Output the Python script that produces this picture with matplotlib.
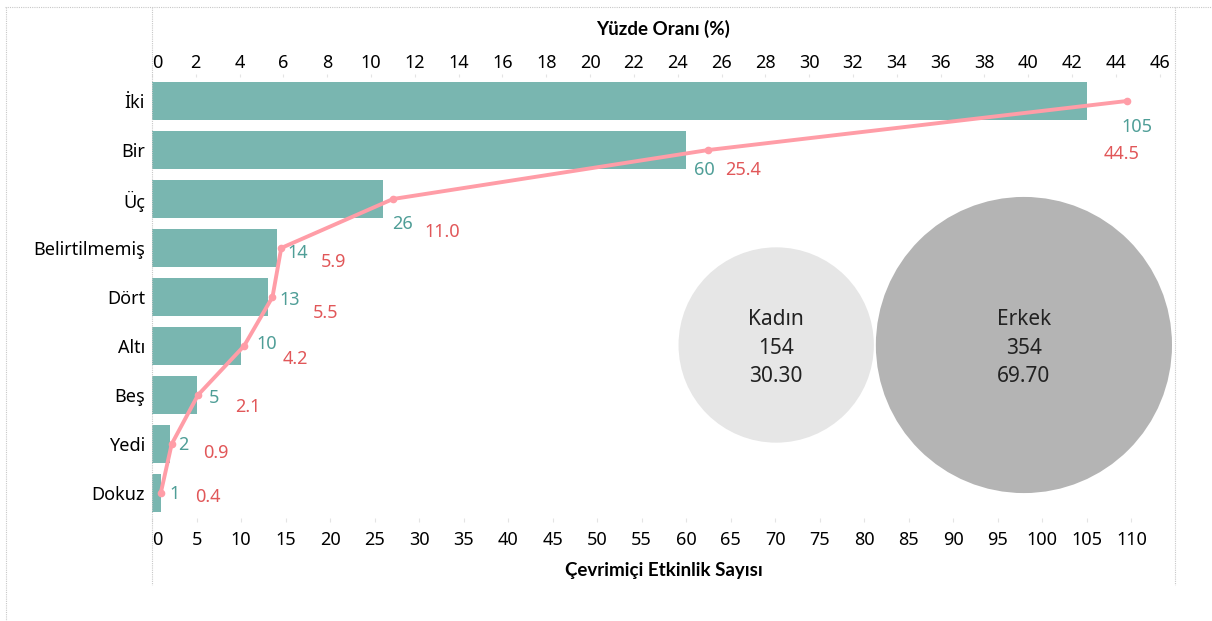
import matplotlib.pyplot as plt
from matplotlib.lines import Line2D
from matplotlib.patches import Circle
import numpy as np

plt.rcParams['font.family'] = ['Noto Sans', 'DejaVu Sans']

# data
categories = ['İki', 'Bir', 'Üç', 'Belirtilmemiş', 'Dört', 'Altı', 'Beş', 'Yedi', 'Dokuz']
counts = [105, 60, 26, 14, 13, 10, 5, 2, 1]
percents = [44.5, 25.4, 11.0, 5.9, 5.5, 4.2, 2.1, 0.9, 0.4]
count_ticks = list(range(0, 111, 5))
pct_ticks = list(range(0, 47, 2))

genders = ['Kadın', 'Erkek']
gender_counts = [154, 354]
gender_pcts = [30.30, 69.70]

# label nudges (pixels: right, down)
count_nudge = [(35, 26), (8, 20), (9, 25), (11, 5), (12, 3), (15, -2), (12, 3), (8, 1), (9, 1)]
pct_nudge = [(-23, 53), (17, 20), (31, 33), (40, 14), (40, 16), (39, 13), (37, 12), (31, 9), (34, 4)]

teal = '#79b6b0'
teal_txt = '#4f9e97'
pink = '#ff9da7'
red_txt = '#e15759'
W, H = 1212, 621
title_font = dict(fontsize=13.5, fontweight='bold', family=['Lato', 'DejaVu Sans'])

fig = plt.figure(figsize=(W / 100, H / 100), dpi=100)
ax = fig.add_axes([152 / W, (H - 517.5) / H, (1175 - 152) / W, 441 / H])

y = np.arange(len(categories))
ax.barh(y, counts, height=0.76, color=teal, zorder=2)
ax.set_ylim(len(categories) - 0.5, -0.5)
ax.set_xlim(0, 114.9)
ax.set_yticks(y)
ax.set_yticklabels(categories, fontsize=13)
ax.tick_params(axis='y', length=0, pad=5)
ax.set_xticks(count_ticks)
ax.set_xticklabels([str(t) for t in count_ticks], fontsize=13)
ax.tick_params(axis='x', length=3, color='#e4e4e4', pad=7)
ax.get_xticklabels()[0].set_horizontalalignment('left')
ax.set_xlabel('Çevrimiçi Etkinlik Sayısı', labelpad=9, **title_font)
for s in ax.spines.values():
    s.set_visible(False)

top = ax.twiny()
top.set_xlim(0, 46.7)
top.plot(percents, y, color=pink, lw=2.8, marker='o', ms=4.5, zorder=3)
top.set_xticks(pct_ticks)
top.set_xticklabels([str(t) for t in pct_ticks], fontsize=13)
top.tick_params(axis='x', length=2, color='#e4e4e4', pad=1)
top.get_xticklabels()[0].set_horizontalalignment('left')
top.set_xlabel('Yüzde Oranı (%)', labelpad=14, **title_font)
for s in top.spines.values():
    s.set_visible(False)

for i in range(len(categories)):
    dx, dy = count_nudge[i]
    ax.annotate(str(counts[i]), (counts[i], y[i]), xytext=(dx, -dy),
                textcoords='offset pixels', ha='left', va='center',
                fontsize=13, color=teal_txt, zorder=4)
    dx, dy = pct_nudge[i]
    top.annotate(f'{percents[i]:.1f}', (percents[i], y[i]), xytext=(dx, -dy),
                 textcoords='offset pixels', ha='left', va='center',
                 fontsize=13, color=red_txt, zorder=4)

# packed bubbles
bx = fig.add_axes([0, 0, 1, 1], zorder=5)
bx.set_xlim(0, W)
bx.set_ylim(H, 0)
bx.axis('off')
k = 7.87
radii = [k * np.sqrt(v) for v in gender_counts]
cy = 345
right_edge = 1172
cx_big = right_edge - radii[1]
cx_small = cx_big - radii[1] - radii[0] - 2
for cx, r, col, name, n, p in zip([cx_small, cx_big], radii, ['#e6e6e6', '#b4b4b4'],
                                   genders, gender_counts, gender_pcts):
    bx.add_patch(Circle((cx, cy), r, color=col, lw=0))
    bx.text(cx, cy + 3, f'{name}\n{n}\n{p:.2f}', ha='center', va='center',
            multialignment='center', fontsize=15, linespacing=1.45, color='#222222')

# dotted frame lines
grey = '#c8c8c8'
for xs, ys in [((5, W), (7, 7)), ((6, 6), (7, H)), ((152, 152), (7, 585)), ((1175, 1175), (7, 585))]:
    fig.add_artist(Line2D([xs[0] / W, xs[1] / W], [1 - ys[0] / H, 1 - ys[1] / H],
                          color=grey, lw=0.8, ls=(0, (1, 1))))

fig.savefig('out.png', dpi=100)
